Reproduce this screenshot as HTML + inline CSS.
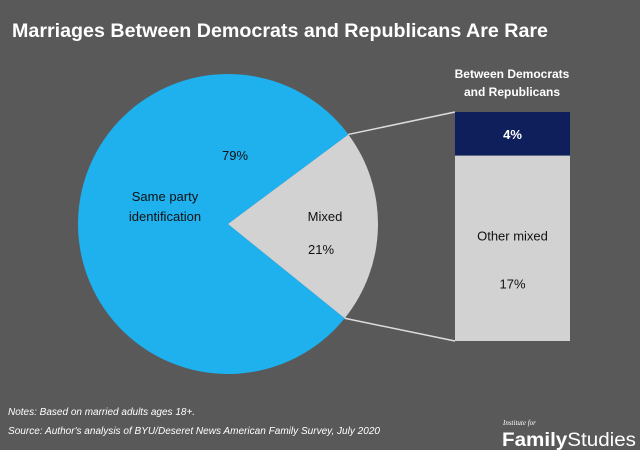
<!DOCTYPE html>
<html><head><meta charset="utf-8"><style>
html,body{margin:0;padding:0;background:#595959;}
svg{display:block;font-family:"Liberation Sans",sans-serif;}
</style></head><body>
<svg id="chart" width="640" height="450" viewBox="0 0 640 450">
<rect x="0" y="0" width="640" height="450" fill="#595959"/>
<text x="12" y="37" fill="#fff" font-size="19" font-weight="bold" textLength="536" lengthAdjust="spacingAndGlyphs">Marriages Between Democrats and Republicans Are Rare</text>
<g id="pie"></g>
<g id="bar"></g>
<text x="512" y="78" fill="#fff" font-size="12" font-weight="bold" text-anchor="middle">Between Democrats</text>
<text x="512" y="96" fill="#fff" font-size="12" font-weight="bold" text-anchor="middle">and Republicans</text>
<text x="8" y="415" fill="#fff" font-size="10" font-style="italic">Notes: Based on married adults ages 18+.</text>
<text x="8" y="434" fill="#fff" font-size="10" font-style="italic" textLength="372" lengthAdjust="spacingAndGlyphs">Source: Author's analysis of BYU/Deseret News American Family Survey, July 2020</text>
<text x="503" y="425" fill="#fff" font-size="7" font-style="italic" font-family="Liberation Serif,serif">Institute for</text>
<text x="502" y="446" fill="#fff" font-size="19" textLength="134" lengthAdjust="spacingAndGlyphs"><tspan font-weight="bold">Family</tspan>Studies</text>
</svg>
<script>
const pieLabels=["Same party identification","Mixed"];
const pieValues=[79,21];
const barLabels=["Between Democrats and Republicans","Other mixed"];
const barValues=[4,17];
const NS="http://www.w3.org/2000/svg";
function mk(tag,attrs,parent){const e=document.createElementNS(NS,tag);for(const k in attrs)e.setAttribute(k,attrs[k]);parent.appendChild(e);return e;}
const cx=228,cy=224,r=150;
const pie=document.getElementById('pie');
const total=pieValues.reduce((a,b)=>a+b,0);
const mixedFrac=pieValues[1]/total;
const midAng=0.02;
const a0=midAng-mixedFrac*Math.PI; const a1=midAng+mixedFrac*Math.PI;
const pt=a=>[cx+r*Math.cos(a),cy+r*Math.sin(a)];
const [x0,y0]=pt(a0),[x1,y1]=pt(a1);
const big=pieValues[0]/total>0.5?1:0;
let p=mk('path',{d:`M${cx},${cy} L${x1},${y1} A${r},${r} 0 ${big} 1 ${x0},${y0} Z`,fill:'#1fb0ee'},pie);

p=mk('path',{d:`M${cx},${cy} L${x0},${y0} A${r},${r} 0 ${1-big} 1 ${x1},${y1} Z`,fill:'#d3d2d3'},pie);

function txt(x,y,s,name,col,parent,bold){const t=mk('text',{x:x,y:y,fill:col||'#111','font-size':13,'text-anchor':'middle'},parent);if(bold)t.setAttribute('font-weight','bold');t.textContent=s;return t;}
txt(235,160,pieValues[0]+'%','label-same-party-value','#111',pie);
txt(165,201,'Same party','label-same-party-line1','#111',pie);
txt(165,221,'identification','label-same-party-line2','#111',pie);
txt(325,221,pieLabels[1],'label-mixed','#111',pie);
txt(321,254,pieValues[1]+'%','label-mixed-value','#111',pie);
const bar=document.getElementById('bar');
const bx=455,bw=115,btop=112,bh=229;
const btot=barValues.reduce((a,b)=>a+b,0);
const ys=v=>v/btot*bh;
const h0=ys(barValues[0]),h1=ys(barValues[1]);
let l=mk('line',{x1:x0,y1:y0,x2:bx,y2:btop,stroke:'#ddd','stroke-width':1.5},bar);

l=mk('line',{x1:x1,y1:y1,x2:bx,y2:btop+bh,stroke:'#ddd','stroke-width':1.5},bar);

let b=mk('rect',{x:bx,y:btop,width:bw,height:h0,fill:'#0e1f5b'},bar);

b=mk('rect',{x:bx,y:btop+h0,width:bw,height:h1,fill:'#d3d2d3'},bar);

txt(bx+bw/2,btop+h0/2+5,barValues[0]+'%','bar-dem-rep-value','#fff',bar,true);
txt(bx+bw/2,btop+h0+h1*0.43+5,barLabels[1],'bar-other-mixed-label','#111',bar);
txt(bx+bw/2,btop+h0+h1*0.69+5,barValues[1]+'%','bar-other-mixed-value','#111',bar);
</script>
</body></html>
